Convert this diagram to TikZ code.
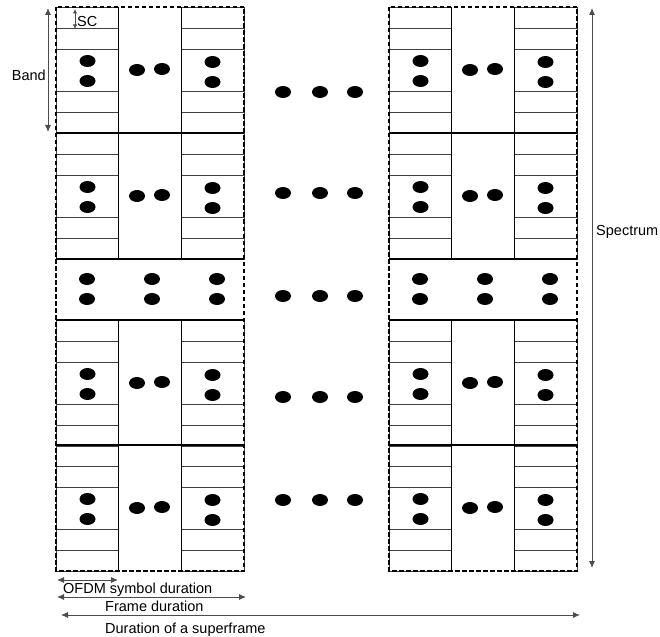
\documentclass[tikz,border=0pt]{standalone}
\usepackage{fontspec}
\setmainfont{Liberation Sans}
\usetikzlibrary{arrows.meta}
\begin{document}
\begin{tikzpicture}[x=1pt,y=-1pt,
  rowline/.style={line width=0.9pt, black!75},
  coldiv/.style={line width=1.5pt, black},
  bandline/.style={line width=2.5pt, black},
  outerline/.style={line width=2.3pt, dash pattern=on 4.5pt off 2.5pt, black},
  dotmark/.style={fill=black},
  dimarrow/.style={line width=0.9pt, black!70, {Latex[length=7pt,width=6pt]}-{Latex[length=7pt,width=6pt]}},
  lbl/.style={font=\fontsize{14.5}{16}\selectfont, inner sep=0pt}]
\useasboundingbox (0,0) rectangle (660,636);

\foreach \fx in {56,389} {
  % four bands with sub-carrier rows
  \foreach \by in {7,133,320,445} {
    \foreach \ry in {21,42,84,105} {
      \draw[rowline] (\fx,\by+\ry) -- (\fx+62.7,\by+\ry);
      \draw[rowline] (\fx+125.3,\by+\ry) -- (\fx+188,\by+\ry);
    }
    \draw[rowline] (\fx,\by) rectangle (\fx+62.7,\by+126);
    \draw[rowline] (\fx+125.3,\by) rectangle (\fx+188,\by+126);
    \draw[coldiv] (\fx+62.7,\by) -- (\fx+62.7,\by+126);
    \draw[coldiv] (\fx+125.3,\by) -- (\fx+125.3,\by+126);
    \fill[dotmark] (\fx+31.5,\by+54) ellipse [x radius=8pt, y radius=6pt];
    \fill[dotmark] (\fx+31.5,\by+74) ellipse [x radius=8pt, y radius=6pt];
    \fill[dotmark] (\fx+156.5,\by+55) ellipse [x radius=8pt, y radius=6pt];
    \fill[dotmark] (\fx+156.5,\by+75) ellipse [x radius=8pt, y radius=6pt];
    \fill[dotmark] (\fx+81,\by+63) ellipse [x radius=8pt, y radius=6pt];
    \fill[dotmark] (\fx+106,\by+62) ellipse [x radius=8pt, y radius=6pt];
  }
  % middle stripe dots
  \foreach \dx in {31,96,161} {
    \fill[dotmark] (\fx+\dx,279) ellipse [x radius=8pt, y radius=6pt];
    \fill[dotmark] (\fx+\dx,299) ellipse [x radius=8pt, y radius=6pt];
  }
  % band separators
  \foreach \sy in {133,259,320,445} {
    \draw[bandline] (\fx,\sy) -- (\fx+188,\sy);
  }
  % dashed outline of the frame
  \draw[outerline] (\fx,7) rectangle (\fx+188,571);
}

% ellipsis between the two frames
\foreach \ey in {92,193,296,397,500} {
  \foreach \ex in {283,320,355} {
    \fill[dotmark] (\ex,\ey) ellipse [x radius=8pt, y radius=6pt];
  }
}

% Band
\coordinate (bandtop) at (48,8);
\coordinate (bandbot) at (48,132);
\draw[dimarrow] (bandtop) -- (bandbot);
\node[lbl, anchor=east] (bandlbl) at (46,75) {Band};

% SC
\coordinate (sctop) at (75,9);
\coordinate (scbot) at (75,29);
\draw[dimarrow, line width=0.8pt, {Latex[length=4.5pt,width=4.5pt]}-{Latex[length=4.5pt,width=4.5pt]}] (sctop) -- (scbot);
\node[lbl, anchor=west] (sclbl) at (77,22) {SC};

% Spectrum
\coordinate (spectop) at (592,8);
\coordinate (specbot) at (592,568);
\draw[dimarrow] (spectop) -- (specbot);
\node[lbl, anchor=west] (speclbl) at (596,232) {Spectrum};

% OFDM symbol duration
\coordinate (ofdmL) at (57,580);
\coordinate (ofdmR) at (118,580);
\draw[dimarrow] (ofdmL) -- (ofdmR);
\node[lbl, anchor=base west] (ofdmlbl) at (63,593) {OFDM symbol duration};

% Frame duration
\coordinate (frameL) at (57,597);
\coordinate (frameR) at (246,597);
\draw[dimarrow] (frameL) -- (frameR);
\node[lbl, anchor=base west] (framelbl) at (105,611) {Frame duration};

% Duration of a superframe
\coordinate (superL) at (61,615);
\coordinate (superR) at (580,615);
\draw[dimarrow] (superL) -- (superR);
\node[lbl, anchor=base west] (superlbl) at (105,633) {Duration of a superframe};
\end{tikzpicture}
\end{document}
